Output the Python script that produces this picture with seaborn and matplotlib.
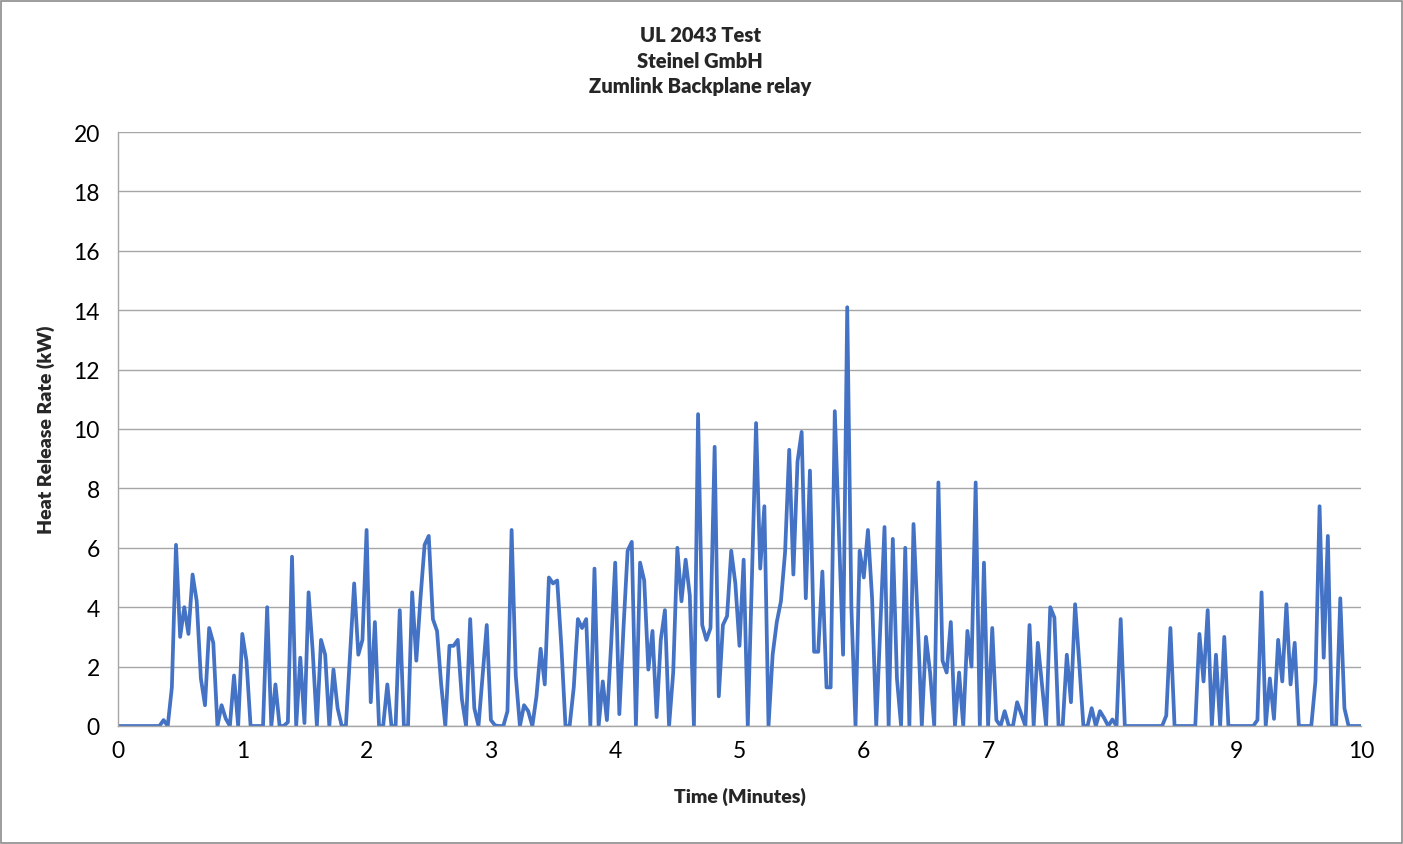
import numpy as np
import pandas as pd
import matplotlib
matplotlib.use("Agg")
import matplotlib.pyplot as plt
import seaborn as sns

# Heat release rate (kW), sampled every 2 seconds (0 .. 10 minutes)
hrr_kw = [
    0, 0, 0, 0, 0, 0, 0, 0, 0, 0,            # 0-9
    0, 0.2, 0, 1.3, 6.1, 3.0, 4.0, 3.1, 5.1, 4.2,   # 10-19
    1.6, 0.7, 3.3, 2.8, 0, 0.7, 0.25, 0, 1.7, 0,    # 20-29
    3.1, 2.2, 0, 0, 0, 0, 4.0, 0, 1.4, 0,           # 30-39
    0, 0.13, 5.7, 0, 2.3, 0.1, 4.5, 2.5, 0, 2.9,    # 40-49
    2.4, 0, 1.9, 0.6, 0, 0, 2.4, 4.8, 2.4, 2.9,     # 50-59
    6.6, 0.8, 3.5, 0, 0, 1.4, 0, 0, 3.9, 0,         # 60-69
    0, 4.5, 2.2, 4.3, 6.1, 6.4, 3.6, 3.2, 1.4, 0,   # 70-79
    2.7, 2.7, 2.9, 0.9, 0, 3.6, 0.6, 0, 1.7, 3.4,   # 80-89
    0.2, 0.02, 0, 0, 0.5, 6.6, 1.7, 0, 0.7, 0.5,    # 90-99
    0, 1.0, 2.6, 1.4, 5.0, 4.8, 4.9, 2.7, 0, 0,     # 100-109
    1.3, 3.6, 3.3, 3.6, 0, 5.3, 0, 1.5, 0.2, 2.7,   # 110-119
    5.5, 0.4, 3.3, 5.9, 6.2, 0, 5.5, 4.9, 1.9, 3.2, # 120-129
    0.3, 2.9, 3.9, 0, 1.8, 6.0, 4.2, 5.6, 4.4, 0,   # 130-139
    10.5, 3.4, 2.9, 3.3, 9.4, 1.0, 3.4, 3.7, 5.9, 4.8,   # 140-149
    2.7, 5.6, 0, 5.0, 10.2, 5.3, 7.4, 0, 2.4, 3.5,  # 150-159
    4.2, 5.85, 9.3, 5.1, 8.9, 9.9, 4.3, 8.6, 2.5, 2.5,   # 160-169
    5.2, 1.3, 1.3, 10.6, 6.5, 2.4, 14.1, 4.0, 0, 5.9,    # 170-179
    5.0, 6.6, 4.3, 0, 3.4, 6.7, 0, 6.3, 1.6, 0,     # 180-189
    6.0, 0, 6.8, 3.6, 0, 3.0, 1.8, 0, 8.2, 2.2,     # 190-199
    1.8, 3.5, 0, 1.8, 0, 3.2, 2.0, 8.2, 0, 5.5,     # 200-209
    0, 3.3, 0.2, 0, 0.5, 0, 0, 0.8, 0.4, 0,         # 210-219
    3.4, 0, 2.8, 1.4, 0, 4.0, 3.65, 0, 0, 2.4,      # 220-229
    0.8, 4.1, 2.1, 0, 0, 0.6, 0, 0.5, 0.27, 0,      # 230-239
    0.22, 0, 3.6, 0, 0, 0, 0, 0, 0, 0,              # 240-249
    0, 0, 0, 0.35, 3.3, 0, 0, 0, 0, 0,              # 250-259
    0, 3.1, 1.5, 3.9, 0, 2.4, 0, 3.0, 0, 0,         # 260-269
    0, 0, 0, 0, 0, 0.2, 4.5, 0, 1.6, 0.24,          # 270-279
    2.9, 1.5, 4.1, 1.4, 2.8, 0, 0, 0, 0, 1.5,       # 280-289
    7.4, 2.3, 6.4, 0, 0, 4.3, 0.6, 0, 0, 0,         # 290-299
    0,                                              # 300
]
time_min = [i * 2 / 60 for i in range(len(hrr_kw))]

title_lines = ["UL 2043 Test", "Steinel GmbH", "Zumlink Backplane relay"]
x_label = "Time (Minutes)"
y_label = "Heat Release Rate (kW)"
x_ticks = list(range(0, 11))
y_ticks = list(range(0, 21, 2))

df = pd.DataFrame({"time": time_min, "hrr": hrr_kw})

sns.set_style("white")
plt.rcParams["font.family"] = ["Lato", "DejaVu Sans"]

fig = plt.figure(figsize=(14.03, 8.45), dpi=100)
ax = fig.add_axes([118 / 1403, 1 - 727 / 845, (1361 - 118) / 1403, (727 - 133) / 845])

sns.lineplot(data=df, x="time", y="hrr", ax=ax, color="#4472C4", linewidth=2.7)

ax.set_xlim(0, 10)
ax.set_ylim(0, 20)
ax.set_xticks(x_ticks)
ax.set_yticks(y_ticks)
ax.set_xticklabels([str(t) for t in x_ticks], fontsize=16.5)
ax.set_yticklabels([str(t) for t in y_ticks], fontsize=16.5)
ax.grid(axis="y", color="#a6a6a6", linewidth=1)
ax.grid(axis="x", visible=False)
ax.set_axisbelow(True)
for side in ["top", "right"]:
    ax.spines[side].set_visible(False)
for side in ["left", "bottom"]:
    ax.spines[side].set_color("#a6a6a6")
    ax.spines[side].set_linewidth(1)
ax.tick_params(axis="both", which="both", direction="out", length=6, width=1,
               color="#a6a6a6", labelcolor="black", pad=4)
ax.tick_params(axis="y", pad=7)

ax.set_xlabel(x_label, fontsize=14, fontweight="heavy")
ax.set_ylabel(y_label, fontsize=14, fontweight="heavy")
ax.xaxis.set_label_coords((740 - 118) / (1361 - 118), -(788 - 727) / (727 - 133))
ax.yaxis.set_label_coords(-(118 - 55) / (1361 - 118), (727 - 430) / (727 - 133))

for k, line in enumerate(title_lines):
    fig.text(700 / 1403, 1 - (35 + 26 * k) / 845, line, ha="center", va="center",
             fontsize=14.5, fontweight="heavy")

# outer chart border
fig.patches.append(plt.Rectangle((0.0005, 0.001), 0.999, 0.997, transform=fig.transFigure,
                                 fill=False, edgecolor="#8c8c8c", linewidth=1.2))

fig.savefig("out.png", dpi=100, facecolor="white")
